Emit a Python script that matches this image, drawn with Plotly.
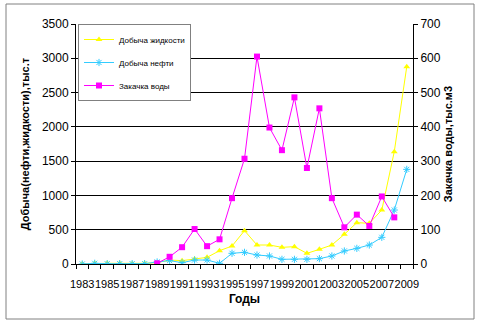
import plotly.graph_objects as go

years = list(range(1983, 2010))
liquid = [0, 10, 10, 10, 5, 10, 19, 58, 49, 73, 97, 194, 262, 486, 277, 277, 243, 253,
          155, 214, 277, 433, 603, 593, 787, 1638, 2878]
oil = [0, 10, 5, 5, 5, 5, 30, 50, 19, 58, 58, 10, 156, 170, 131, 117, 68, 68, 68, 78,
       117, 190, 228, 277, 389, 787, 1380]
water = [None, None, None, None, None, None, 2, 21, 49, 102, 52, 72, 192, 307, 605, 398,
         332, 486, 280, 454, 192, 107, 144, 111, 197, 136, None]
tick_years = list(range(1983, 2010, 2))

FONT = "Arial, Liberation Sans, sans-serif"

fig = go.Figure()
fig.add_trace(go.Scatter(x=years, y=liquid, name="Добыча жидкости", mode="lines+markers",
                         line=dict(color="#FFFF00", width=1),
                         marker=dict(symbol="triangle-up", size=6, color="#FFFF00"),
                         legendgroup="a"))
fig.add_trace(go.Scatter(x=years, y=oil, name="Добыча нефти", mode="lines+markers",
                         line=dict(color="#33CCFF", width=1),
                         marker=dict(symbol="asterisk-open", size=6, color="#33CCFF",
                                     line=dict(color="#33CCFF", width=1)),
                         legendgroup="b"))
fig.add_trace(go.Scatter(x=years, y=water, name="Закачка воды", mode="lines+markers",
                         line=dict(color="#FF00FF", width=1),
                         marker=dict(symbol="square", size=6, color="#FF00FF"),
                         yaxis="y2", legendgroup="c"))

L, R, T, B = 76, 68, 24, 60
W, H = 481, 324
pw = W - L - R
ph = H - T - B

fig.update_layout(
    width=W, height=H,
    margin=dict(l=L, r=R, t=T, b=B, pad=0),
    paper_bgcolor="white", plot_bgcolor="white",
    font=dict(family=FONT, size=11, color="black"),
    showlegend=True,
    legend=dict(x=(78 - L) / pw, y=1, xanchor="left", yanchor="top",
                bgcolor="white", bordercolor="#808080", borderwidth=1,
                font=dict(size=8, family=FONT), traceorder="grouped",
                tracegroupgap=4, itemwidth=30),
    xaxis=dict(range=[1982.5, 2009.5], tickmode="array", tickvals=tick_years,
               ticktext=[str(y) for y in tick_years], tickangle=0,
               ticks="outside", ticklen=10, tickcolor="rgba(0,0,0,0)",
               showgrid=False, zeroline=False, showline=True, linecolor="black", linewidth=1,
               tickfont=dict(size=11),
               minor=dict(ticks="outside", tick0=1982.5, dtick=1, ticklen=4,
                          tickcolor="black", showgrid=False),
               title=dict(text="<b>Годы</b>", font=dict(size=12), standoff=5)),
    yaxis=dict(range=[0, 3500], dtick=500, ticks="outside", ticklen=4, tickcolor="black",
               showgrid=True, gridcolor="black", gridwidth=1, zeroline=False,
               showline=True, linecolor="black", linewidth=1, tickfont=dict(size=12),
               title=dict(text="<b>Добыча(нефти,жидкости),тыс.т</b>", font=dict(size=11),
                          standoff=10)),
    yaxis2=dict(range=[0, 700], dtick=100, overlaying="y", side="right",
                ticks="outside", ticklen=4, tickcolor="black", showgrid=False,
                zeroline=False, showline=True, linecolor="black", linewidth=1,
                tickfont=dict(size=12),
                title=dict(text="<b>Закачка воды,тыс.м3</b>", font=dict(size=11),
                           standoff=4)),
    shapes=[dict(type="rect", xref="paper", yref="paper",
                 x0=(6 - L) / pw, x1=(474 - L) / pw,
                 y0=1 - (319 - T) / ph, y1=1 - (4 - T) / ph,
                 line=dict(color="#808080", width=1), fillcolor="rgba(0,0,0,0)",
                 layer="below")],
)

fig.write_html("out.html")
